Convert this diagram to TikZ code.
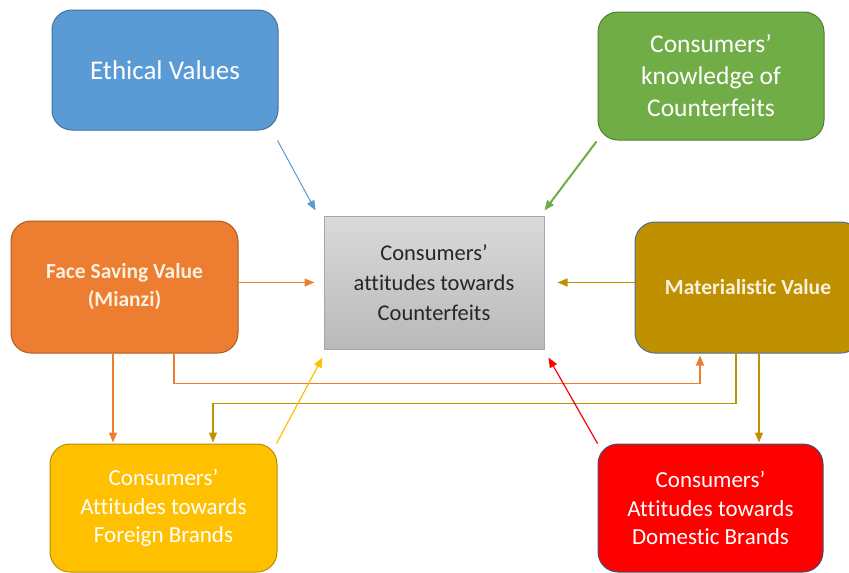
\documentclass[tikz,border=0pt]{standalone}
\usepackage{fontspec}
\setmainfont{Carlito}[Ligatures=NoCommon]
\usetikzlibrary{arrows.meta,calc}
\definecolor{cblue}{HTML}{5B9BD5}
\definecolor{cblueb}{HTML}{41719C}
\definecolor{cgreen}{HTML}{70AD47}
\definecolor{cgreenb}{HTML}{507E32}
\definecolor{corange}{HTML}{ED7D31}
\definecolor{corangeb}{HTML}{AE5A21}
\definecolor{cgold}{HTML}{BF9000}
\definecolor{cyellow}{HTML}{FFC000}
\definecolor{cyellowb}{HTML}{BC8C00}
\definecolor{cred}{HTML}{FF0000}
\definecolor{credb}{HTML}{41547C}
\definecolor{cgraytop}{HTML}{DADADA}
\definecolor{cgraybot}{HTML}{B9B9B9}
\definecolor{cgrayb}{HTML}{A6A6A6}
\definecolor{ctext}{HTML}{262626}
\definecolor{ccream}{HTML}{FBF1E0}
\tikzset{
  box/.style={rounded corners=20pt, line width=1pt, inner sep=0pt, align=center, text=white},
  centerbox/.style={draw=cgrayb, line width=1pt, top color=cgraytop, bottom color=cgraybot, inner sep=0pt, align=center, text=ctext, minimum width=220pt, minimum height=133pt, font=\fontsize{22.5}{30}\selectfont},
  conn/.style={line width=1.2pt, -{Triangle[length=10pt,width=8pt]}},
}
\begin{document}
\begin{tikzpicture}[x=1pt,y=1pt]
\useasboundingbox (0,0) rectangle (849,-573);
\clip (0,0) rectangle (849,-573);
% boxes
\node[box, draw=cblueb, fill=cblue, minimum width=226pt, minimum height=120pt, font=\fontsize{27}{31}\selectfont] (ev) at (165,-70) {Ethical Values};
\node[box, draw=cgreenb, fill=cgreen, minimum width=226pt, minimum height=128pt, font=\fontsize{25.5}{32}\selectfont] (kc) at (711,-76) {Consumers'\\knowledge of\\Counterfeits};
\node[centerbox] (cc) at (434,-282.5) {Consumers'\\attitudes towards\\Counterfeits};
\node[box, draw=corangeb, fill=corange, text=ccream, minimum width=227pt, minimum height=132pt, font=\bfseries\fontsize{21.5}{28}\selectfont] (fs) at (124.5,-287) {Face Saving Value\\(Mianzi)};
\node[box, draw=cblueb, fill=cgold, text=ccream, minimum width=226pt, minimum height=131pt, font=\bfseries\fontsize{21.5}{28}\selectfont] (mv) at (748,-287.5) {Materialistic Value};
\node[box, draw=cyellowb, fill=cyellow, minimum width=227pt, minimum height=128pt, font=\fontsize{23}{28.5}\selectfont] (fb) at (163.5,-508) {Consumers'\\Attitudes towards\\Foreign Brands};
\node[box, draw=credb, fill=cred, minimum width=225pt, minimum height=128pt, font=\fontsize{23}{28.5}\selectfont] (db) at (710.5,-508) {Consumers'\\Attitudes towards\\Domestic Brands};
% connector end points
\coordinate (o1) at ([xshift=-11.5pt]fs.south);
\coordinate (o2) at ([xshift=49.5pt]fs.south);
\coordinate (m1) at ([xshift=-48pt]mv.south);
\coordinate (m2) at ([xshift=-12pt]mv.south);
\coordinate (m3) at ([xshift=11pt]mv.south);
\coordinate (f2) at ([xshift=49.5pt]fb.north);
% connectors
\draw[conn, draw=cblue, fill=cblue, line width=1pt] ([xshift=-1pt,yshift=-10pt]ev.south east) -- ([xshift=-8pt,yshift=5pt]cc.north west);
\draw[conn, draw=cgreen, fill=cgreen, line width=2pt] ([xshift=-1pt,yshift=-1pt]kc.south west) -- ([yshift=5pt]cc.north east);
\draw[conn, draw=corange] (fs.east |- cc.west) -- ([xshift=-9pt]cc.west);
\draw[conn, draw=cgold] (mv.west |- cc.east) -- ([xshift=13pt]cc.east);
\draw[conn, draw=corange] (o1) -- ([yshift=1pt]o1 |- fb.north);
\draw[conn, draw=corange] (o2) -- ++(0,-30pt) -| ([yshift=-2pt]m1);
\draw[conn, draw=cgold] (m2) -- ++(0,-50pt) -| ([yshift=1pt]f2);
\draw[conn, draw=cgold] (m3) -- ([yshift=1pt]m3 |- db.north);
\draw[conn, draw=cyellow] ([xshift=-1pt]fb.north east) -- ([xshift=-1pt,yshift=-8pt]cc.south west);
\draw[conn, draw=cred] (db.north west) -- ([xshift=4pt,yshift=-8pt]cc.south east);
\end{tikzpicture}
\end{document}
